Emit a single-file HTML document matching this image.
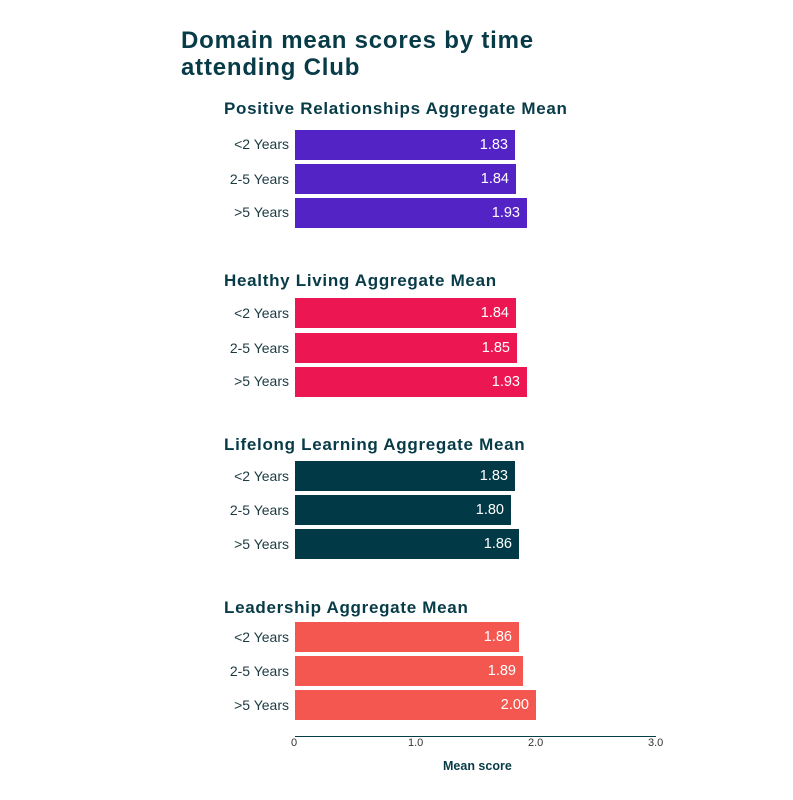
<!DOCTYPE html><html><head><style>
body{margin:0;width:793px;height:800px;background:#fff;position:relative;font-family:"Liberation Sans",sans-serif;color:#073b47;overflow:hidden}
.a{position:absolute;white-space:nowrap}
.t{font-weight:bold;font-size:24px;left:181px;letter-spacing:0.8px}
.h{font-weight:bold;font-size:17px;left:224px;letter-spacing:0.7px}
.l{font-size:14px;right:504px;color:#1c3a42}
.b{position:absolute;left:295px;height:30px;color:#fff;font-size:14.5px;text-align:right;box-sizing:border-box;padding-right:7px;line-height:30px}
.k{font-size:11px;color:#333;top:737px}
</style></head><body>
<div class="a t" style="top:27px">Domain mean scores by time</div>
<div class="a t" style="top:54px">attending Club</div>

<div class="a h" style="top:99px">Positive Relationships Aggregate Mean</div>
<div class="a l" style="top:136px">&lt;2 Years</div><div class="b" style="top:130px;width:220px;background:#5423c6">1.83</div>
<div class="a l" style="top:171px">2-5 Years</div><div class="b" style="top:164px;width:221px;background:#5423c6">1.84</div>
<div class="a l" style="top:204px">&gt;5 Years</div><div class="b" style="top:198px;width:232px;background:#5423c6">1.93</div>

<div class="a h" style="top:271px">Healthy Living Aggregate Mean</div>
<div class="a l" style="top:305px">&lt;2 Years</div><div class="b" style="top:298px;width:221px;background:#ec1652">1.84</div>
<div class="a l" style="top:340px">2-5 Years</div><div class="b" style="top:333px;width:222px;background:#ec1652">1.85</div>
<div class="a l" style="top:373px">&gt;5 Years</div><div class="b" style="top:367px;width:232px;background:#ec1652">1.93</div>

<div class="a h" style="top:435px">Lifelong Learning Aggregate Mean</div>
<div class="a l" style="top:468px">&lt;2 Years</div><div class="b" style="top:461px;width:220px;background:#013a46">1.83</div>
<div class="a l" style="top:502px">2-5 Years</div><div class="b" style="top:495px;width:216px;background:#013a46">1.80</div>
<div class="a l" style="top:536px">&gt;5 Years</div><div class="b" style="top:529px;width:224px;background:#013a46">1.86</div>

<div class="a h" style="top:598px">Leadership Aggregate Mean</div>
<div class="a l" style="top:629px">&lt;2 Years</div><div class="b" style="top:622px;width:224px;background:#f4574f">1.86</div>
<div class="a l" style="top:663px">2-5 Years</div><div class="b" style="top:656px;width:228px;background:#f4574f">1.89</div>
<div class="a l" style="top:697px">&gt;5 Years</div><div class="b" style="top:690px;width:241px;background:#f4574f">2.00</div>

<div class="a" style="left:295px;top:736px;width:361px;height:1px;background:#073b47"></div>
<div class="a k" style="left:291px">0</div>
<div class="a k" style="left:408px">1.0</div>
<div class="a k" style="left:528px">2.0</div>
<div class="a k" style="left:648px">3.0</div>
<div class="a" style="left:443px;top:759px;font-weight:bold;font-size:12.5px">Mean score</div>
</body></html>
